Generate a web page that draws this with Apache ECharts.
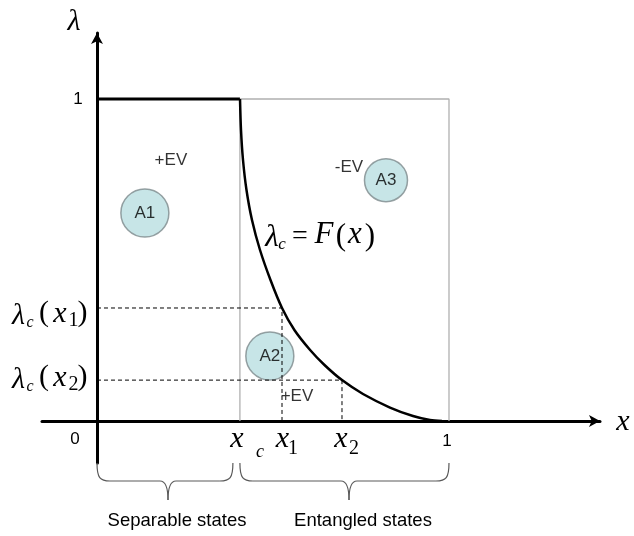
<!DOCTYPE html>
<html><head><meta charset="utf-8">
<script src="https://cdn.jsdelivr.net/npm/echarts@6/dist/echarts.min.js"></script>
<style>html,body{margin:0;padding:0;background:#fff}#c{width:634px;height:536px}</style>
</head><body><div id="c"></div>
<script>
// ---- data ----
const xc = 0.406, x1 = 0.5256, x2 = 0.696;
const lam1 = 0.351, lam2 = 0.127;
const curveX = [0.4063, 0.4091, 0.4148, 0.4247, 0.4403, 0.4631, 0.4929, 0.5256, 0.5608, 0.6054, 0.6463, 0.696, 0.7557, 0.8324, 0.8977, 0.946, 0.9801];
const curveY = [1.000, 0.9037, 0.8106, 0.7174, 0.6242, 0.5311, 0.4379, 0.351, 0.2826, 0.2205, 0.1739, 0.127, 0.0839, 0.0419, 0.0155, 0.0031, 0.000];
const regionNames = ['A1', 'A2', 'A3'];
const regionX = [0.136, 0.491, 0.821];
const regionY = [0.646, 0.202, 0.748];
const evTexts = ['+EV', '-EV', '+EV'];
const evX = [0.210, 0.716, 0.568];
const evY = [0.811, 0.789, 0.078];
const braceLabels = ['Separable states', 'Entangled states'];

const SERIF = '"Liberation Serif", "Times New Roman", serif';
const SANS = '"Liberation Sans", Arial, sans-serif';

const chart = echarts.init(document.getElementById('c'), null, {renderer: 'canvas'});

const option = {
  animation: false,
  backgroundColor: '#fff',
  grid: {left: 42, right: 34, top: 33, bottom: 73},
  xAxis: {
    type: 'value', min: -0.15625, max: 1.429,
    axisLine: {onZero: true, symbol: ['none', 'arrow'], symbolSize: [9, 11], lineStyle: {color: '#000', width: 3}},
    axisTick: {show: false}, axisLabel: {show: false}, splitLine: {show: false}
  },
  yAxis: {
    type: 'value', min: -0.1304, max: 1.205,
    axisLine: {onZero: true, symbol: ['none', 'arrow'], symbolSize: [9, 11], lineStyle: {color: '#000', width: 3}},
    axisTick: {show: false}, axisLabel: {show: false}, splitLine: {show: false}
  },
  series: [
    {type: 'line', z: 1, symbol: 'none', silent: true,
     data: [[xc, 0], [xc, 1], [1, 1], [1, 0]],
     lineStyle: {color: '#b0b0b0', width: 1.3}},
    {type: 'line', z: 4, symbol: 'none', silent: true,
     data: [[0, 1], [xc, 1]],
     lineStyle: {color: '#000', width: 3}},
    {type: 'scatter', z: 2, symbol: 'circle', silent: true,
     data: regionNames.map((n, i) => ({value: [regionX[i], regionY[i]], name: n, symbolSize: i === 2 ? 43 : 48})),
     itemStyle: {color: '#b9dfe1', borderColor: '#7d8a8c', borderWidth: 1.5},
     label: {show: true, position: 'inside', formatter: p => p.name, color: '#000', fontSize: 17, fontFamily: SANS}},
    {type: 'line', z: 3, symbol: 'none', silent: true,
     data: [[0, lam1], [x1, lam1], [x1, 0]],
     lineStyle: {color: '#000', width: 1, type: [4, 3]}},
    {type: 'line', z: 3, symbol: 'none', silent: true,
     data: [[0, lam2], [x2, lam2], [x2, 0]],
     lineStyle: {color: '#000', width: 1, type: [4, 3]}},
    {type: 'line', z: 4, symbol: 'none', silent: true, smooth: 0.3,
     data: curveX.map((x, i) => [x, curveY[i]]),
     lineStyle: {color: '#000', width: 2.5}},
    {type: 'scatter', z: 5, symbolSize: 0, silent: true,
     data: evTexts.map((t, i) => ({value: [evX[i], evY[i]], name: t})),
     label: {show: true, position: 'inside', formatter: p => p.name, color: '#000', fontSize: 17, fontFamily: SANS}}
  ]
};
chart.setOption(option);

const P = (x, y) => chart.convertToPixel({gridIndex: 0}, [x, y]);
function T(x, y, text, font, align) {
  return {type: 'text', x: x, y: y, z: 100, silent: true,
    style: {text: text, font: font, fill: '#000', align: align || 'center', verticalAlign: 'middle'}};
}
const it = (s) => 'italic ' + s + 'px ' + SERIF;
const rm = (s) => s + 'px ' + SERIF;
const sn = (s) => s + 'px ' + SANS;

const o = P(0, 0), one = P(1, 0), top1 = P(0, 1), pc = P(xc, 0), p1 = P(x1, 0), p2 = P(x2, 0);
const l1 = P(0, lam1), l2 = P(0, lam2);
const els = [];
// tick labels
els.push(T(o[0] - 22, o[1] + 18, '0', sn(17)));
els.push(T(top1[0] - 19, top1[1], '1', sn(17)));
els.push(T(one[0] - 2, one[1] + 20, '1', sn(17)));
// axis names
els.push(T(74, 22, 'λ', it(30)));
els.push(T(623, 422, 'x', it(30)));
// x-axis special labels
els.push(T(pc[0] - 3, pc[1] + 18, 'x', it(30)));
els.push(T(pc[0] + 20, pc[1] + 31, 'c', it(18)));
els.push(T(p1[0] + 0.5, p1[1] + 18, 'x', it(30)));
els.push(T(p1[0] + 11, p1[1] + 28, '1', rm(20)));
els.push(T(p2[0] - 1, p2[1] + 18, 'x', it(30)));
els.push(T(p2[0] + 12, p2[1] + 28, '2', rm(20)));
// y-axis special labels
function lamLabel(py, sub, dy) {
  els.push(T(18.5, py + 8 + dy, 'λ', it(30)));
  els.push(T(30, py + 15 + dy, 'c', it(16)));
  els.push(T(44, py + 5 + dy, '(', rm(30)));
  els.push(T(60, py + 6 + dy, 'x', it(30)));
  els.push(T(73.5, py + 13 + dy, sub, rm(20)));
  els.push(T(82.5, py + 5 + dy, ')', rm(30)));
}
lamLabel(l1[1], '1', 0);
lamLabel(l2[1], '2', -8);
// formula
els.push(T(272, 238, 'λ', it(31)));
els.push(T(282, 245, 'c', it(17)));
els.push(T(300, 237, '=', rm(28)));
els.push(T(324, 235, 'F', it(31)));
els.push(T(341, 237, '(', rm(31)));
els.push(T(355, 235, 'x', it(31)));
els.push(T(370, 237, ')', rm(31)));
// braces
const braceStyle = {fill: null, stroke: '#5a5a5a', lineWidth: 1.2};
function brace(xa, xb, xt) {
  const y0 = o[1] + 42, y1 = o[1] + 60, y2 = o[1] + 79, r = 13, rt = 8;
  const seg = [];
  seg.push({type: 'bezierCurve', shape: {x1: xa, y1: y0, x2: xa + r, y2: y1, cpx1: xa, cpy1: y1 - 3, cpx2: xa + 3, cpy2: y1}});
  seg.push({type: 'line', shape: {x1: xa + r, y1: y1, x2: xt - rt, y2: y1}});
  seg.push({type: 'bezierCurve', shape: {x1: xt - rt, y1: y1, x2: xt, y2: y2, cpx1: xt, cpy1: y1}});
  seg.push({type: 'bezierCurve', shape: {x1: xt, y1: y2, x2: xt + rt, y2: y1, cpx1: xt, cpy1: y1}});
  seg.push({type: 'line', shape: {x1: xt + rt, y1: y1, x2: xb - r, y2: y1}});
  seg.push({type: 'bezierCurve', shape: {x1: xb - r, y1: y1, x2: xb, y2: y0, cpx1: xb - 3, cpy1: y1, cpx2: xb, cpy2: y1 - 3}});
  seg.forEach(s => { s.style = braceStyle; s.z = 50; s.silent = true; els.push(s); });
}
brace(o[0], pc[0] - 7, 168);
brace(pc[0], one[0], 349);
els.push(T(177, 521, braceLabels[0], sn(18.5)));
els.push(T(363, 521, braceLabels[1], sn(18.5)));

chart.setOption({graphic: {elements: els}});
</script>
</body></html>
